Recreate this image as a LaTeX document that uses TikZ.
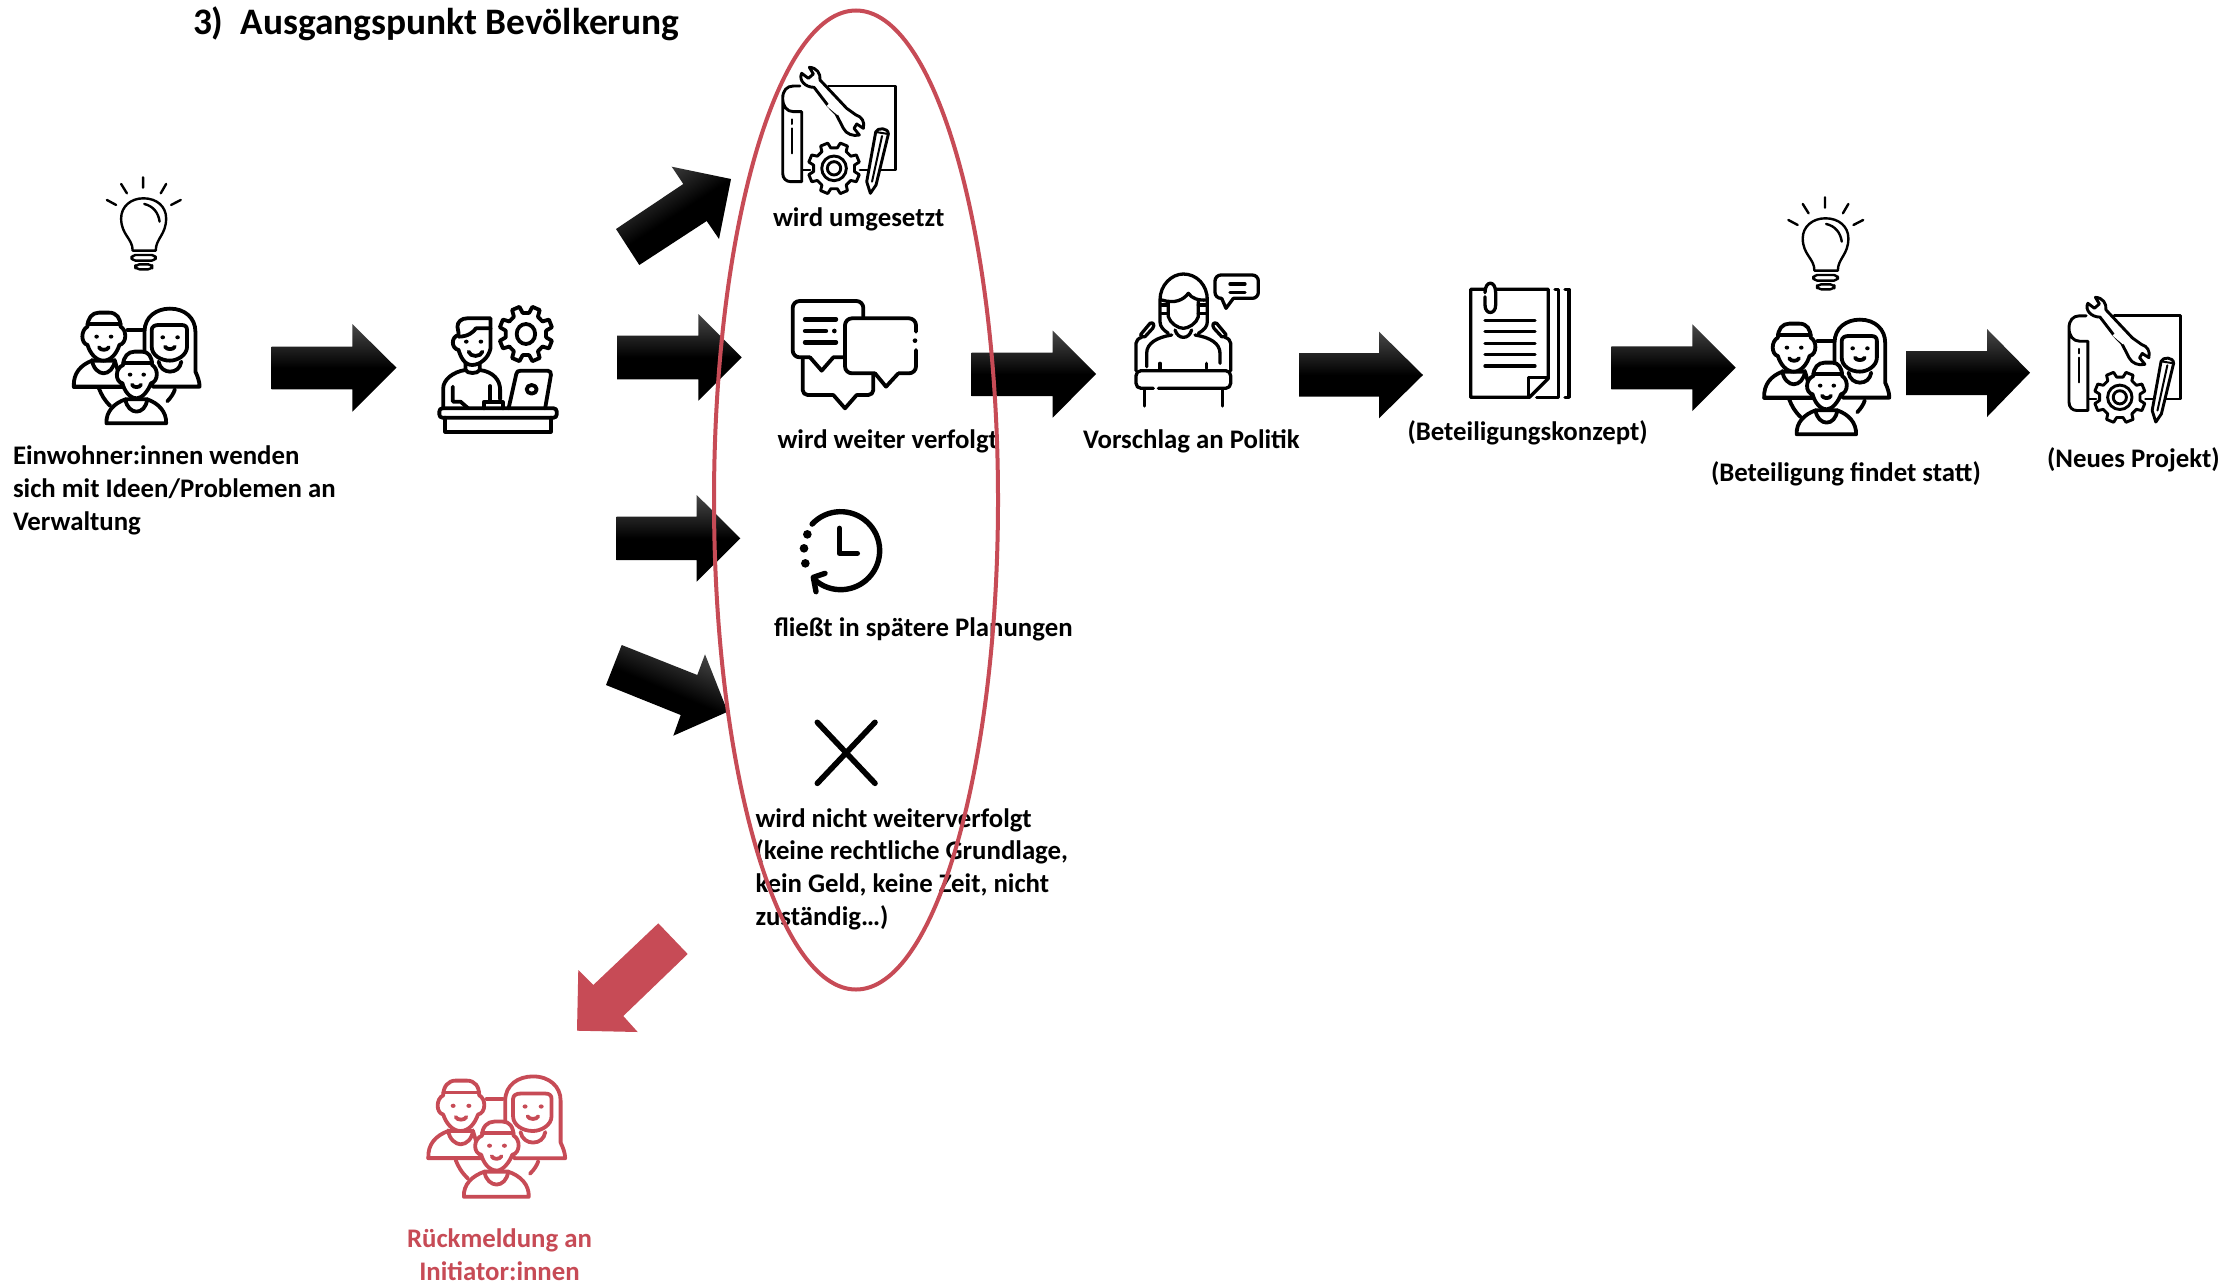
\documentclass[tikz,border=0pt]{standalone}
\usepackage{fontspec}
\setmainfont{Carlito}
\usetikzlibrary{shapes.geometric}
\definecolor{redc}{HTML}{C74B56}
\definecolor{tipgray}{HTML}{484848}
\colorlet{ic}{black}
\tikzset{
  ln/.style={draw=ic,line width=1.9pt,line join=round,line cap=round},
  thin ln/.style={draw=ic,line width=1.2pt,line join=round,line cap=round},
  lnw/.style={ln,fill=white},
  dot/.style={fill=ic,draw=none},
  lab/.style={inner sep=0pt,outer sep=0pt,anchor=base west,font=\fontsize{13.4pt}{16.3pt}\selectfont\bfseries,align=left},
  block/.style={top color=tipgray,bottom color=black,middle color=black},
}
% #1 x, #2 y, #3 xscale, #4 yscale, #5 origin x, #6 origin y, #7 body
\newcommand\iconat[7]{\begin{scope}[shift={(#1,#2)},xscale=#3*0.33333,yscale=#4*0.33333]\begin{scope}[shift={(-#5,-#6)}]#7\end{scope}\end{scope}}
\newcommand\gearicon[6]{%cx cy xs ys tooth body
  \begin{scope}[shift={(#1,#2)},xscale=#3,yscale=#4]
  \draw[lnw] (-14:#5) \foreach \a in {0,45,...,315} { -- (\a-14:#5) -- (\a-9:#6) -- (\a+9:#6) -- (\a+14:#5) } -- cycle;
  \end{scope}}
\newcommand\bulbicon{%
  \draw[thin ln] (372,82)--(372,113) (315,102)--(330,130) (432,102)--(418,130) (278,150)--(302,165) (470,150)--(445,165);
  \draw[thin ln] (345,302) .. controls (345,265) and (315,255) .. (315,205) .. controls (315,170) and (340,145) .. (373,145) .. controls (408,145) and (432,170) .. (432,205) .. controls (432,255) and (405,265) .. (405,302) -- cycle;
  \draw[thin ln] (375,162) .. controls (398,168) and (412,188) .. (415,215);
  \draw[thin ln,rounded corners=2] (342,315) rectangle (405,332);
  \draw[thin ln,rounded corners=2] (352,343) rectangle (396,358);
}
\newcommand\peopleicon{%
  \draw[ln] (333,540)--(372,540);
  \draw[lnw] (192,710) .. controls (190,670) and (210,645) .. (240,632) -- (300,632) -- (320,710) -- cycle;
  \draw[ln] (258,715) .. controls (265,735) and (272,750) .. (288,768);
  \draw[ln] (458,718) .. controls (455,730) and (448,742) .. (438,754);
  \draw[lnw] (378,640) -- (378,545) .. controls (378,500) and (410,476) .. (445,476) .. controls (485,476) and (512,505) .. (512,545) -- (512,665) .. controls (518,680) and (523,695) .. (523,710) -- (400,710) -- (378,640);
  \draw[lnw] (397,540) .. controls (397,530) and (405,525) .. (415,525) -- (475,525) .. controls (485,525) and (490,530) .. (490,540) -- (490,590) .. controls (490,615) and (465,632) .. (445,632) .. controls (420,632) and (397,615) .. (397,590) -- cycle;
  \draw[ln] (415,635) .. controls (418,655) and (432,665) .. (445,665) .. controls (460,665) and (472,655) .. (475,635);
  \draw[ln] (192,710) -- (330,710);
  \draw[lnw] (228,530) .. controls (228,505) and (240,488) .. (258,488) -- (285,488) .. controls (305,488) and (315,505) .. (315,530)
    .. controls (332,540) and (332,580) .. (312,585) .. controls (305,610) and (290,632) .. (270,632) .. controls (250,632) and (235,610) .. (228,585) .. controls (210,580) and (210,540) .. (228,530) -- cycle;
  \draw[ln] (228,522)--(315,522);
  \draw[ln] (240,630) .. controls (242,655) and (258,670) .. (270,670) .. controls (284,670) and (298,655) .. (300,630);
  \fill[dot] (252,560) circle (6) (290,560) circle (6) (426,562) circle (6) (465,562) circle (6);
  \draw[ln] (258,592) .. controls (262,602) and (280,602) .. (284,592);
  \draw[ln] (432,590) .. controls (436,600) and (454,600) .. (458,590);
  \draw[lnw] (278,820) .. controls (276,785) and (298,760) .. (328,748) -- (385,748) .. controls (415,760) and (436,785) .. (435,820) -- cycle;
  \draw[lnw] (322,645) .. controls (322,620) and (335,605) .. (352,605) -- (372,605) .. controls (388,605) and (398,620) .. (398,645)
    .. controls (415,655) and (415,695) .. (395,700) .. controls (388,722) and (372,745) .. (358,745) .. controls (338,745) and (325,722) .. (320,700) .. controls (300,695) and (300,655) .. (322,645) -- cycle;
  \draw[ln] (322,638)--(398,638);
  \draw[ln] (328,748) .. controls (330,772) and (345,785) .. (357,785) .. controls (370,785) and (383,772) .. (385,748);
  \fill[dot] (340,674) circle (6) (376,674) circle (6);
  \draw[ln] (345,704) .. controls (349,714) and (365,714) .. (369,704);
}
\newcommand\projecticon{%
  \tikzset{ln/.append style={line width=1.45pt}}%
  \draw[ln] (385,258) -- (587,258) -- (587,510) -- (480,510);
  \draw[ln] (305,510)--(330,510);
  \draw[lnw] (300,258) -- (280,258) .. controls (260,258) and (248,272) .. (248,295) -- (248,520) .. controls (248,535) and (258,545) .. (272,545) -- (305,545) -- (305,335) -- (280,335) .. controls (260,335) and (248,318) .. (248,295);
  \draw[thin ln,line width=1pt] (277,358)--(277,372) (277,385)--(277,460);
  \draw[lnw] (342,262) -- (385,318) -- (408,342) -- (430,385) .. controls (438,402) and (460,410) .. (478,405) -- (462,385) -- (470,372) -- (490,385) .. controls (495,365) and (485,350) .. (468,345) -- (440,325) -- (360,240) .. controls (362,220) and (350,203) .. (328,202) -- (340,222) -- (325,235) -- (305,220) .. controls (295,240) and (315,262) .. (342,262) -- cycle;
  \path[fill=white] (380,318) -- (412,345) -- (420,335) -- (390,308) -- cycle;
  \gearicon{402}{505}{1}{1}{78}{62}
  \draw[ln] (402,505) circle (37);
  \draw[ln] (402,505) circle (20);
  \draw[lnw] (527,396) .. controls (532,382) and (565,382) .. (565,402) -- (528,555) -- (511,580) -- (500,545) -- cycle;
  \draw[thin ln,line width=1pt] (546,408)--(516,545) (527,396)--(565,402);
}
\begin{document}
\begin{tikzpicture}[x=0.5pt,y=-0.5pt]
\useasboundingbox (0,0) rectangle (2226,1285);
\fill[white] (0,0) rectangle (2226,1285);
% block arrows
\shade[block] (271.5,346.7)--(352.3,346.7)--(352.3,324)--(396.5,367.7)--(352.3,411.7)--(352.3,389.3)--(271.5,389.3)--cycle;
\shade[block] (617,335.7)--(698.3,335.7)--(698.3,314)--(741.7,357.3)--(698.3,400.7)--(698.3,379.3)--(617,379.3)--cycle;
\shade[block] (616.7,516.7)--(696.7,516.7)--(696.7,495)--(740.3,538.3)--(696.7,581.7)--(696.7,560)--(616.7,560)--cycle;
\shade[block] (971.7,352.7)--(1052.7,352.7)--(1052.7,330.7)--(1096,374)--(1052.7,417.7)--(1052.7,396)--(971.7,396)--cycle;
\shade[block] (1299,353)--(1379,353)--(1379,331.7)--(1423,375)--(1379,418.3)--(1379,396.7)--(1299,396.7)--cycle;
\shade[block] (1611.3,346.3)--(1692.3,346.3)--(1692.3,324.3)--(1735.7,367.7)--(1692.3,411)--(1692.3,389.3)--(1611.3,389.3)--cycle;
\shade[block] (1906,351)--(1987,351)--(1987,329)--(2030,372.7)--(1987,417)--(1987,395)--(1906,395)--cycle;
\shade[block,shading angle=33] (616,229)--(683.3,184)--(671.7,166.7)--(731,179)--(719,239)--(706.7,221)--(639.3,265)--cycle;
\shade[block,shading angle=-23] (621.7,645)--(697.3,675)--(705,654.3)--(727.7,711.7)--(673.3,735.7)--(680.7,715)--(606,685)--cycle;
\fill[redc] (658.3,923.3)--(593.3,985)--(578.3,970)--(577,1030.7)--(637.7,1032)--(623.3,1016)--(687.7,954)--cycle;
% icons
\iconat{106.9}{177.3}{1.154}{1}{278}{82}{\bulbicon}
\iconat{1788.3}{197.3}{1.17}{1}{278}{82}{\bulbicon}
\iconat{72.3}{307.3}{1.14}{1}{188}{472}{\peopleicon}
\iconat{1762.7}{318.3}{1.134}{1}{188}{472}{\peopleicon}
\begin{scope}\colorlet{ic}{redc}
\iconat{426.7}{1075}{1.24}{1.05}{188}{472}{\peopleicon}
\end{scope}
% admin
\iconat{-3}{150}{1.154}{1}{0}{0}{
  \draw[ln] (1160,775) -- (1160,715) .. controls (1160,690) and (1185,665) .. (1218,660);
  \draw[ln] (1255,660) .. controls (1290,665) and (1308,690) .. (1308,720) -- (1308,748);
  \draw[ln] (1185,710) -- (1185,755) -- (1205,755) -- (1225,775);
  \draw[ln] (1282,708) -- (1282,755);
  \draw[ln] (1265,775) -- (1265,757) -- (1315,757) -- (1315,775);
  \draw[ln] (1218,640) -- (1218,660) .. controls (1222,672) and (1250,672) .. (1255,660) -- (1255,640);
  \draw[lnw] (1200,550) -- (1197,530) .. controls (1197,515) and (1208,505) .. (1222,505) -- (1283,505) -- (1283,535) -- (1283,595) .. controls (1278,625) and (1255,645) .. (1235,645) .. controls (1215,645) and (1205,620) .. (1200,600) .. controls (1180,595) and (1180,560) .. (1200,555) -- cycle;
  \draw[ln] (1200,560) .. controls (1225,560) and (1240,545) .. (1245,535) -- (1283,535);
  \fill[dot] (1220,575) circle (6) (1258,575) circle (6);
  \draw[ln] (1226,605) .. controls (1230,622) and (1258,622) .. (1262,605);
  \draw[ln] (1330,775) -- (1350,672) .. controls (1350,665) and (1355,662) .. (1362,662) -- (1432,662) .. controls (1438,662) and (1441,668) .. (1440,675) -- (1425,775);
  \draw[ln] (1390,718) circle (13);
  \gearicon{1375}{552}{0.83}{1}{84}{64}
  \draw[ln] (1375,552) circle [x radius=24,y radius=30];
  \draw[ln,rounded corners=1.5pt] (1150,775) rectangle (1455,803);
  \draw[ln] (1165,803) -- (1165,845) -- (1440,845) -- (1440,803);
}
\iconat{781.7}{66}{1}{1}{245}{198}{\projecticon}
\iconat{2068}{296}{0.99}{0.99}{245}{198}{\projecticon}
% chat
\iconat{700}{0}{1}{1}{0}{0}{
  \draw[ln,rounded corners=2.5pt] (308,1075) -- (308,1185) -- (400,1185) ;
  \draw[ln] (400,1185) -- (435,1225) -- (470,1185);
  \draw[ln,rounded corners=2.5pt] (470,1185) -- (520,1185) -- (520,1125);
  \draw[lnw,rounded corners=3.5pt] (490,950) -- (490,903) -- (278,903) -- (278,1072) -- (330,1072);
  \draw[ln] (330,1072) -- (365,1112) -- (400,1072) -- (430,1072);
  \draw[ln,line width=2.2pt] (315,958)--(408,958) (315,993)--(378,993) (315,1027)--(408,1027);
  \fill[dot] (403,993) circle (7);
  \draw[lnw,rounded corners=3.5pt] (648,995) -- (648,955) -- (435,955) -- (435,1120) -- (525,1120);
  \draw[ln] (525,1120) -- (558,1160) -- (595,1120);
  \draw[ln,rounded corners=3.5pt] (595,1120) -- (648,1120) -- (648,1050);
  \fill[dot] (645,1022) circle (7);
}
% clock
\iconat{700}{480}{1}{1}{0}{0}{
  \begin{scope}[line width=2.7pt,line cap=round,line join=round]
  \draw[ic] (336.4,132.2) arc[start angle=-137,end angle=131,radius=117];
  \draw[ic] (375,280) -- (340,292) -- (348,335);
  \draw[ic] (418,145) -- (418,220) -- (472,220);
  \end{scope}
  \fill[dot] (322,163) circle (13) (312,205) circle (13) (316,250) circle (13);
}
% X
\iconat{700}{480}{1}{1}{0}{0}{
  \draw[ic,line width=2.8pt,line cap=round] (352,727)--(525,910) (525,727)--(352,910);
}
% speaker
\iconat{1100}{250}{1}{1}{0}{0}{
  \tikzset{ln/.append style={line width=1.65pt}}
  \draw[ln] (108,362) -- (108,280) .. controls (108,272) and (115,265) .. (125,262);
  \draw[ln] (392,362) -- (392,280) .. controls (392,272) and (385,265) .. (375,262);
  \draw[ln] (125,250) -- (150,220) .. controls (160,215) and (165,225) .. (158,235) -- (135,260) .. controls (125,262) and (118,255) .. (125,250);
  \draw[ln] (375,250) -- (350,220) .. controls (340,215) and (335,225) .. (342,235) -- (365,260) .. controls (375,262) and (382,255) .. (375,250);
  \draw[ln] (140,350) -- (140,310) .. controls (140,280) and (170,262) .. (215,255);
  \draw[ln] (360,340) -- (360,310) .. controls (360,280) and (330,262) .. (285,255);
  \draw[ln] (180,340)--(180,355) (320,340)--(320,355);
  \draw[ln] (225,240) .. controls (230,255) and (240,262) .. (250,262) .. controls (262,262) and (270,255) .. (275,240);
  \draw[ln] (205,250) .. controls (190,240) and (180,230) .. (180,215) -- (180,150) .. controls (180,105) and (215,72) .. (250,72) .. controls (290,72) and (322,105) .. (322,150) -- (322,215) .. controls (322,230) and (312,240) .. (295,250);
  \draw[ln] (205,155) -- (205,200) .. controls (210,220) and (235,235) .. (250,235) .. controls (265,235) and (290,220) .. (295,200) -- (295,155);
  \draw[ln] (185,150) .. controls (225,162) and (250,150) .. (265,130) .. controls (275,145) and (295,152) .. (320,150);
  \draw[ln] (185,165)--(205,165) (185,190)--(205,190) (295,165)--(318,165) (295,190)--(318,190);
  \draw[ln,rounded corners=2.5pt] (160,415) -- (108,415) -- (108,362) -- (392,362) -- (392,415) -- (175,415);
  \draw[ln] (133,418)--(133,468) (368,418)--(368,468);
  \draw[ln,rounded corners=3pt] (365,145) -- (345,145) -- (345,75) -- (475,75) -- (475,145) -- (400,145);
  \draw[ln] (365,145) -- (378,175) -- (400,145);
  \draw[ln] (390,102)--(435,102) (390,127)--(435,127);
}
% document
\iconat{1100}{250}{1}{1}{0}{0}{
  \tikzset{ln/.append style={line width=1.65pt}}
  \draw[ln] (1112,118) -- (1345,118) -- (1345,385) -- (1288,442) -- (1112,442) -- cycle;
  \draw[ln] (1345,382) -- (1285,382) -- (1285,442);
  \draw[ln] (1365,118) -- (1375,118) -- (1375,442) -- (1310,442);
  \draw[ln] (1395,118) -- (1407,118) -- (1407,442) -- (1395,442);
  \draw[ln,fill=white] (1155,128) .. controls (1155,90) and (1187,90) .. (1187,128) -- (1187,165) .. controls (1187,195) and (1155,195) .. (1155,165) -- (1155,140);
  \draw[ln] (1155,212)--(1305,212) (1155,245)--(1305,245) (1155,280)--(1305,280) (1155,313)--(1305,313) (1155,348)--(1305,348);
}
% labels
\node[lab,font=\fontsize{18.7pt}{22pt}\selectfont\bfseries] (title) at (193,34) {3)\hspace{0.45em}Ausgangspunkt Bevölkerung};
\node[lab] (t1) at (13,530) {Einwohner:innen wenden\\sich mit Ideen/Problemen an\\Verwaltung};
\node[lab] (t2) at (773,226) {wird umgesetzt};
\node[lab] (t3) at (777.5,448) {wird weiter verfolgt};
\node[lab] (t4) at (774,636) {fließt in spätere Planungen};
\node[lab] (t5) at (755.5,925) {wird nicht weiterverfolgt\\(keine rechtliche Grundlage,\\kein Geld, keine Zeit, nicht\\zuständig…)};
\node[lab] (t6) at (1083,448) {Vorschlag an Politik};
\node[lab] (t7) at (1407.5,440) {(Beteiligungskonzept)};
\node[lab] (t8) at (1711,481) {(Beteiligung findet statt)};
\node[lab] (t9) at (2047,467) {(Neues Projekt)};
\node[lab,align=center,text=redc,anchor=base] (t10) at (499.5,1280) {Rückmeldung an\\Initiator:innen};
% red ellipse
\node[ellipse,draw=redc,line width=2pt,inner sep=0pt,outer sep=0pt,minimum width=142pt,minimum height=489.5pt] (oval) at (856,500) {};
\end{tikzpicture}
\end{document}
